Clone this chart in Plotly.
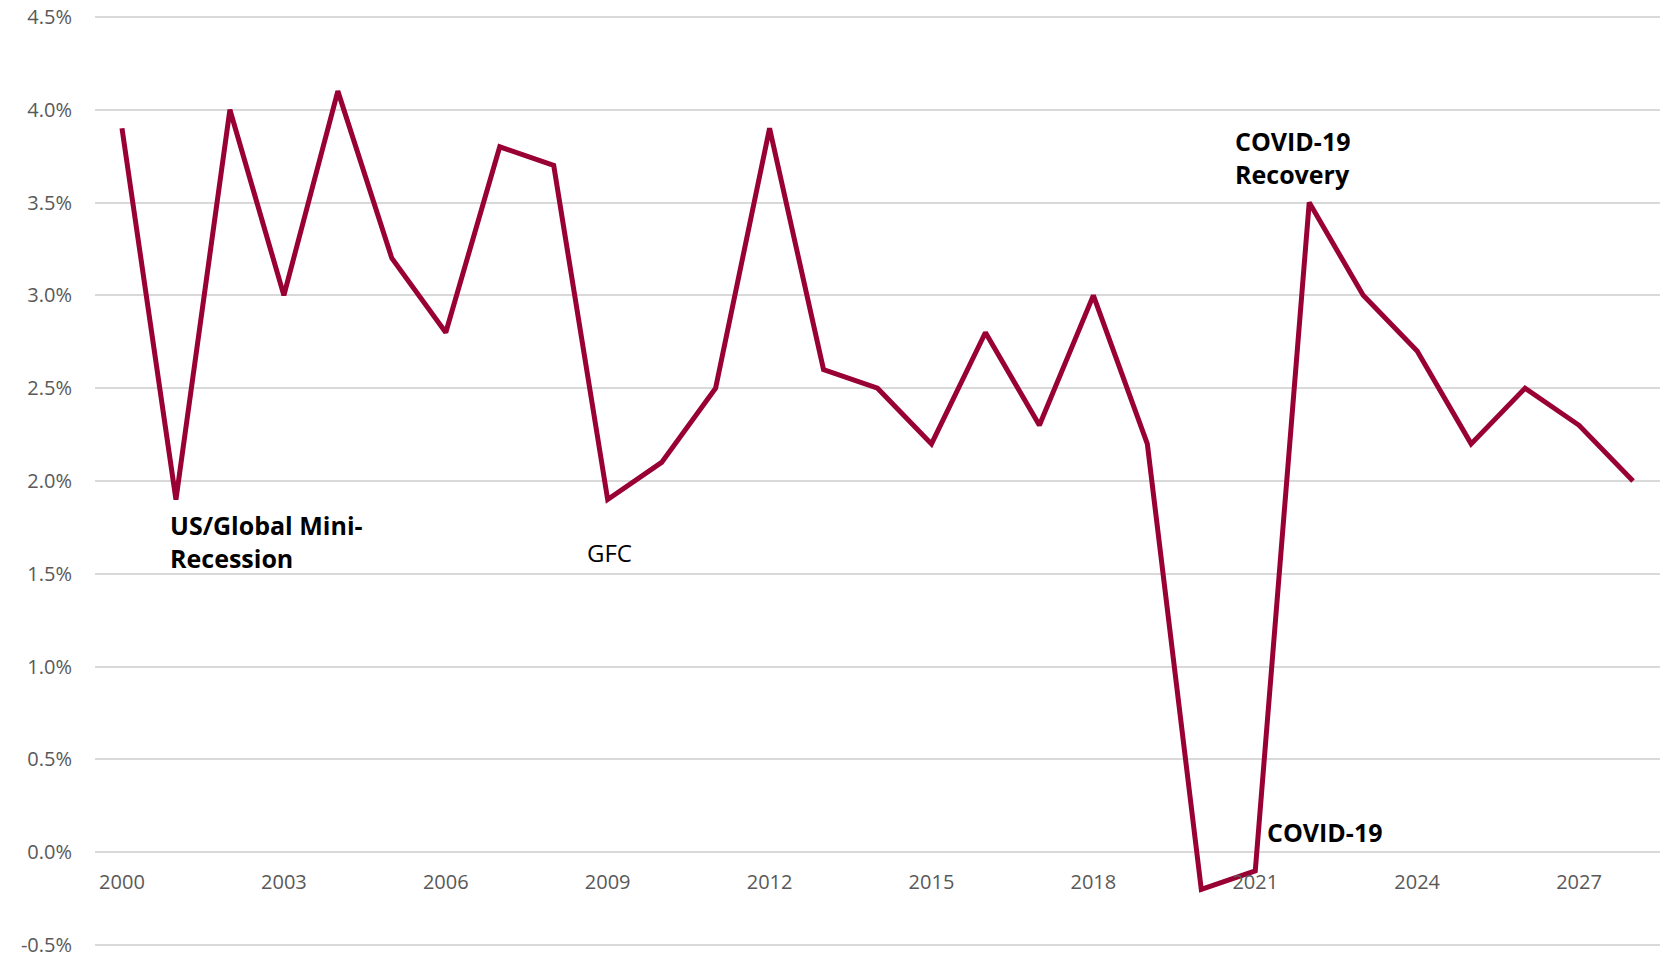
import plotly.graph_objects as go

years = list(range(2000, 2029))
growth = [3.9, 1.9, 4.0, 3.0, 4.1, 3.2, 2.8, 3.8, 3.7, 1.9, 2.1, 2.5, 3.9, 2.6, 2.5,
          2.2, 2.8, 2.3, 3.0, 2.2, -0.2, -0.1, 3.5, 3.0, 2.7, 2.2, 2.5, 2.3, 2.0]
x_ticks = list(range(2000, 2029, 3))
y_ticks = [-0.5, 0.0, 0.5, 1.0, 1.5, 2.0, 2.5, 3.0, 3.5, 4.0, 4.5]

FONT = "Open Sans"
Y_MIN, Y_MAX = -0.51, 4.51

fig = go.Figure()
fig.add_trace(go.Scatter(x=years, y=growth, mode="lines",
                         line=dict(color="#990033", width=5), hoverinfo="x+y"))

ann = [
    dict(x=2001, y=1.9, text="<b>US/Global Mini-<br>Recession</b>", xanchor="left", yanchor="top",
         xshift=-8, yshift=-6, align="left", font=dict(size=25, color="#000000", family=FONT)),
    dict(x=2009, y=1.9, text="GFC", xanchor="center", yanchor="middle",
         xshift=2, yshift=-53, font=dict(size=24, color="#000000", family=FONT)),
    dict(x=2022, y=3.5, text="<b>COVID-19<br>Recovery</b>", xanchor="left", yanchor="bottom",
         xshift=-76, yshift=10, align="left", font=dict(size=25, color="#000000", family=FONT)),
    dict(x=2021, y=0.1, text="<b>COVID-19</b>", xanchor="left", yanchor="middle",
         xshift=10, yshift=2, font=dict(size=25, color="#000000", family=FONT)),
]
for a in ann:
    a.update(showarrow=False, xref="x", yref="y")

fig.update_layout(
    width=1665, height=958,
    margin=dict(l=95, r=5, t=15, b=11),
    paper_bgcolor="white", plot_bgcolor="white",
    showlegend=False,
    font=dict(family=FONT, size=20, color="#595959"),
    annotations=ann,
    xaxis=dict(range=[1999.5, 2028.5], tickvals=x_ticks, ticktext=[str(v) for v in x_ticks],
               showgrid=False, zeroline=False, showline=False, ticks="",
               anchor="free", position=(0 - Y_MIN) / (Y_MAX - Y_MIN),
               ticklabelstandoff=16, automargin=False,
               tickfont=dict(size=20, color="#595959", family=FONT)),
    yaxis=dict(range=[Y_MIN, Y_MAX], tickvals=y_ticks,
               ticktext=[f"{v:.1f}%" for v in y_ticks],
               showgrid=True, gridcolor="#d9d9d9", gridwidth=1.5,
               zeroline=True, zerolinecolor="#d9d9d9", zerolinewidth=1.5,
               showline=False, ticks="", ticklabelstandoff=22, automargin=False,
               ticklabeloverflow="allow",
               tickfont=dict(size=20, color="#595959", family=FONT)),
)
fig.write_html("out.html", config={"displayModeBar": False},
               post_script="document.body.style.margin='0';document.documentElement.style.overflow='hidden';")
